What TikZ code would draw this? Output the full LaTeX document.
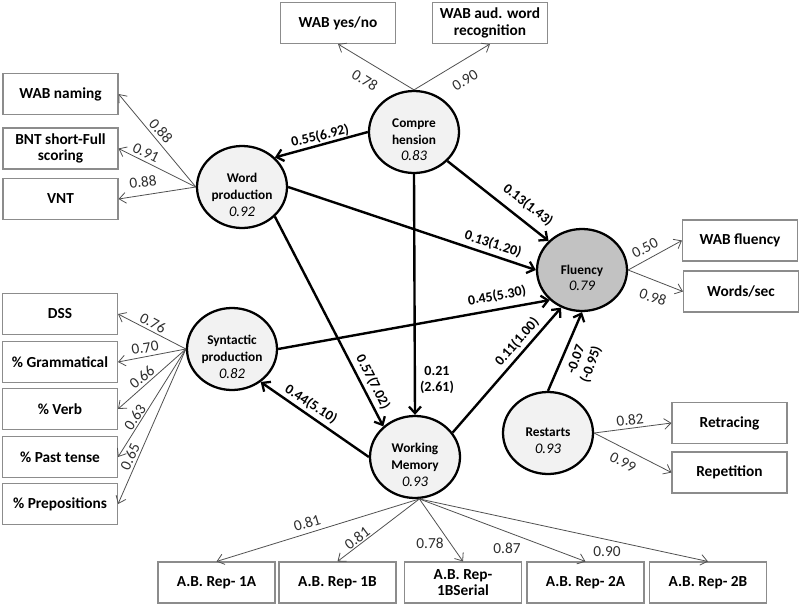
\documentclass[tikz,border=0pt]{standalone}
\usepackage{fontspec}
\setmainfont{Carlito}
\usetikzlibrary{shapes.geometric,arrows.meta}
\definecolor{latfill}{HTML}{F2F2F2}
\definecolor{flufill}{HTML}{C2C2C2}
\definecolor{boxgray}{HTML}{8C8C8C}
\definecolor{linegray}{HTML}{505050}
\definecolor{labgray}{HTML}{2E2E2E}
\begin{document}
\begin{tikzpicture}[x=0.75pt,y=-0.75pt,
 lv/.style={ellipse,draw,line width=1.7pt,fill=latfill,minimum width=67.5pt,minimum height=61.5pt,inner sep=0pt},
 obs/.style={draw=boxgray,line width=0.8pt,minimum width=86.25pt,minimum height=30.75pt,inner sep=1pt,align=center,font=\fontsize{11.5}{12.5}\selectfont\bfseries},
 load/.style={draw=linegray,line width=0.6pt,-{Straight Barb[length=5pt,width=8pt]}},
 spath/.style={draw=black,line width=1.8pt,-{Straight Barb[length=5pt,width=9pt,line width=1.7pt]}},
 ll/.style={font=\fontsize{11.5}{13}\selectfont,text=labgray,inner sep=0pt},
 pl/.style={font=\fontsize{10.5}{12}\selectfont\bfseries,inner sep=0pt,align=center},
 lt/.style={align=center,font=\fontsize{10}{12.5}\selectfont\bfseries,yshift=-6pt}
]
\useasboundingbox (0,0) rectangle (800,604);

% latent variables
\node[lv] (comp) at (414,132) {};
\node[lv] (wp) at (242,187) {};
\node[lv] (syn) at (232,349) {};
\node[lv,fill=flufill] (flu) at (582,270) {};
\node[lv] (wm) at (415,457) {};
\node[lv] (res) at (548,433) {};
\node[lt] (tcomp) at (comp.center) {Compre\\hension\\{\fontsize{11}{12.5}\selectfont\mdseries\itshape 0.83}};
\node[lt] (twp) at (wp.center) {Word\\production\\{\fontsize{11}{12.5}\selectfont\mdseries\itshape 0.92}};
\node[lt] (tsyn) at (syn.center) {Syntactic\\production\\{\fontsize{11}{12.5}\selectfont\mdseries\itshape 0.82}};
\node[lt] (tflu) at (flu.center) {Fluency\\{\fontsize{11}{12.5}\selectfont\mdseries\itshape 0.79}};
\node[lt] (twm) at (wm.center) {Working\\Memory\\{\fontsize{11}{12.5}\selectfont\mdseries\itshape 0.93}};
\node[lt] (tres) at (res.center) {Restarts\\{\fontsize{11}{12.5}\selectfont\mdseries\itshape 0.93}};

% observed variables
\node[obs] (yesno) at (338,23) {WAB yes/no};
\node[obs] (aud) at (490,23) {WAB aud. word\\recognition};
\node[obs] (naming) at (60.5,94) {WAB naming};
\node[obs] (bnt) at (60.5,148.5) {BNT short-Full\\scoring};
\node[obs] (vnt) at (60.5,199) {VNT};
\node[obs] (dss) at (60,314) {DSS};
\node[obs] (gram) at (60,362) {\% Grammatical};
\node[obs] (verb) at (60,409) {\% Verb};
\node[obs] (past) at (60,457) {\% Past tense};
\node[obs] (prep) at (60,504) {\% Prepositions};
\node[obs] (wabflu) at (740,240.5) {WAB fluency};
\node[obs] (wps) at (741,291.5) {Words/sec};
\node[obs] (retr) at (729.5,423) {Retracing};
\node[obs] (rept) at (729.5,472.5) {Repetition};
\node[obs,minimum width=87.75pt] (r1a) at (216.5,582.5) {A.B. Rep- 1A};
\node[obs,minimum width=87.75pt] (r1b) at (337.5,582.5) {A.B. Rep- 1B};
\node[obs,minimum width=87.75pt] (r1bs) at (463,582.5) {A.B. Rep-\\1BSerial};
\node[obs,minimum width=87.75pt] (r2a) at (585.5,582.5) {A.B. Rep- 2A};
\node[obs,minimum width=87.75pt] (r2b) at (708,582.5) {A.B. Rep- 2B};

% loadings
\draw[load] (comp.north) -- (yesno.south);
\draw[load] (comp.north) -- (aud.south);
\draw[load] (wp.west) -- (naming.east);
\draw[load] (wp.west) -- (bnt.east);
\draw[load] (wp.west) -- (vnt.east);
\draw[load] (syn.west) -- (dss.east);
\draw[load] (syn.west) -- (gram.east);
\draw[load] (syn.west) -- (verb.east);
\draw[load] (syn.west) -- (past.east);
\draw[load] (syn.west) -- (prep.east);
\draw[load] (flu.east) -- (wabflu.west);
\draw[load] (flu.east) -- (wps.west);
\draw[load] (res.east) -- (retr.west);
\draw[load] (res.east) -- (rept.west);
\draw[load] (wm.-84) -- (r1a.north);
\draw[load] (wm.-84) -- (r1b.north);
\draw[load] (wm.-84) -- (r1bs.north);
\draw[load] (wm.-84) -- (r2a.north);
\draw[load] (wm.-84) -- (r2b.north);

\node[ll,rotate=-32] (l1) at (365,80) {0.78};
\node[ll,rotate=32] (l2) at (465,80) {0.90};
\node[ll,rotate=-49] (l3) at (161,131) {0.88};
\node[ll,rotate=-26] (l4) at (146,153) {0.91};
\node[ll,rotate=7] (l5) at (143,182) {0.88};
\node[ll,rotate=-28] (l6) at (153,323) {0.76};
\node[ll,rotate=9] (l7) at (145,348) {0.70};
\node[ll,rotate=39] (l8) at (142,377) {0.66};
\node[ll,rotate=56] (l9) at (135,417) {0.63};
\node[ll,rotate=65] (l10) at (130,457) {0.65};
\node[ll,rotate=27] (l11) at (645,248) {0.50};
\node[ll,rotate=-19] (l12) at (653,297) {0.98};
\node[ll,rotate=7] (l13) at (630,420) {0.82};
\node[ll,rotate=-27] (l14) at (623,462) {0.99};
\node[ll,rotate=17] (l15) at (307,523) {0.81};
\node[ll,rotate=37] (l16) at (357,538) {0.81};
\node[ll] (l17) at (430,543) {0.78};
\node[ll] (l18) at (507,548) {0.87};
\node[ll] (l19) at (607,552) {0.90};

% structural paths
\draw[spath] (comp.180) -- (wp.42);
\draw[spath] (comp.-41) -- (flu.139);
\draw[spath] (wp.0) -- (flu.180);
\draw[spath] (syn.0) -- (flu.-137);
\draw[spath] (wm.33) -- (flu.-119);
\draw[spath] (res.north) -- (flu.south);
\draw[spath] (comp.south) -- (wm.north);
\draw[spath] (wp.-42) -- (wm.136);
\draw[spath] (wm.180) -- (syn.-49);

\node[pl,rotate=13] (p1) at (320,136) {0.55(6.92)};
\node[pl,rotate=-38] (p2) at (528,205) {0.13(1.43)};
\node[pl,rotate=-18] (p3) at (493,244) {0.13(1.20)};
\node[pl,rotate=10] (p4) at (497,296) {0.45(5.30)};
\node[pl,rotate=49] (p5) at (517,342) {0.11(1.00)};
\node[pl,rotate=70] (p6) at (584,362) {-0.07\\(-0.95)};
\node[pl] (p7) at (437,380) {0.21\\(2.61)};
\node[pl,rotate=-63] (p8) at (373,382) {0.57(7.02)};
\node[pl,rotate=-33] (p9) at (311,404) {0.44(5.10)};
\end{tikzpicture}
\end{document}
